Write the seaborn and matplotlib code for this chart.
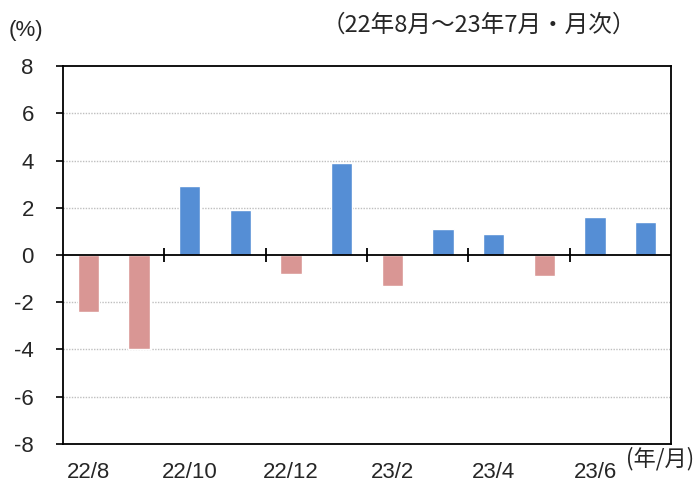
import matplotlib
matplotlib.use("Agg")
from matplotlib import pyplot as plt
import pandas as pd
import seaborn as sns

# monthly change (%), 22/8 - 23/7
months = ['22/8', '22/9', '22/10', '22/11', '22/12', '23/1',
          '23/2', '23/3', '23/4', '23/5', '23/6', '23/7']
change = [-2.4, -4.0, 2.9, 1.9, -0.8, 3.9,
          -1.3, 1.1, 0.9, -0.9, 1.6, 1.4]
y_ticks = [-8, -6, -4, -2, 0, 2, 4, 6, 8]

df = pd.DataFrame({'month': months, 'change': change})
df['sign'] = ['neg' if v < 0 else 'pos' for v in df['change']]

sns.set_style('white')
plt.rcParams['font.family'] = ['Liberation Sans', 'Noto Sans CJK JP', 'DejaVu Sans']

fig = plt.figure(figsize=(6.95, 4.82), dpi=100)
ax = fig.add_axes([0.0906, 0.079, 0.875, 0.784])

sns.barplot(data=df, x='month', y='change', hue='sign',
            palette={'neg': '#D99694', 'pos': '#558ED5'}, saturation=1,
            dodge=False, width=0.42, legend=False, ax=ax, zorder=3)

ax.set_ylim(-8, 8)
ax.set_xlim(-0.5, len(months) - 0.5)
ax.set_yticks(y_ticks)
ax.set_yticklabels([str(t) for t in y_ticks], fontsize=16)

# dotted grid, zero line in black
for t in y_ticks:
    if t not in (-8, 0, 8):
        ax.axhline(t, color='#BFBFBF', lw=1, ls=(0, (1, 1)), zorder=1)
ax.axhline(0, color='black', lw=1.3, zorder=4)

# category separator ticks crossing the zero line
for xb in range(1, len(months) - 1, 2):
    ax.vlines(xb + 0.5, -0.3, 0.3, color='black', lw=1.3, zorder=4)

ax.set_xticks(range(0, len(months), 2))
ax.set_xticklabels(months[::2], fontsize=16)
ax.tick_params(axis='x', length=0, pad=13)
ax.tick_params(axis='y', length=5, width=1.2, color='black', pad=16, left=True)

for s in ax.spines.values():
    s.set_color('black')
    s.set_linewidth(1.3)

ax.set_xlabel('')
ax.set_ylabel('')

fig.text(0.012, 0.936, '(%)', fontsize=16, ha='left', va='center')
fig.text(0.915, 0.948, '（22年8月～23年7月・月次）', fontsize=17,
         ha='right', va='center', family=['Noto Sans CJK JP', 'DejaVu Sans'])
fig.text(0.999, 0.048, '(年/月)', fontsize=16, ha='right', va='center',
         family=['Noto Sans CJK JP', 'DejaVu Sans'])

fig.savefig('out.png', dpi=100)
